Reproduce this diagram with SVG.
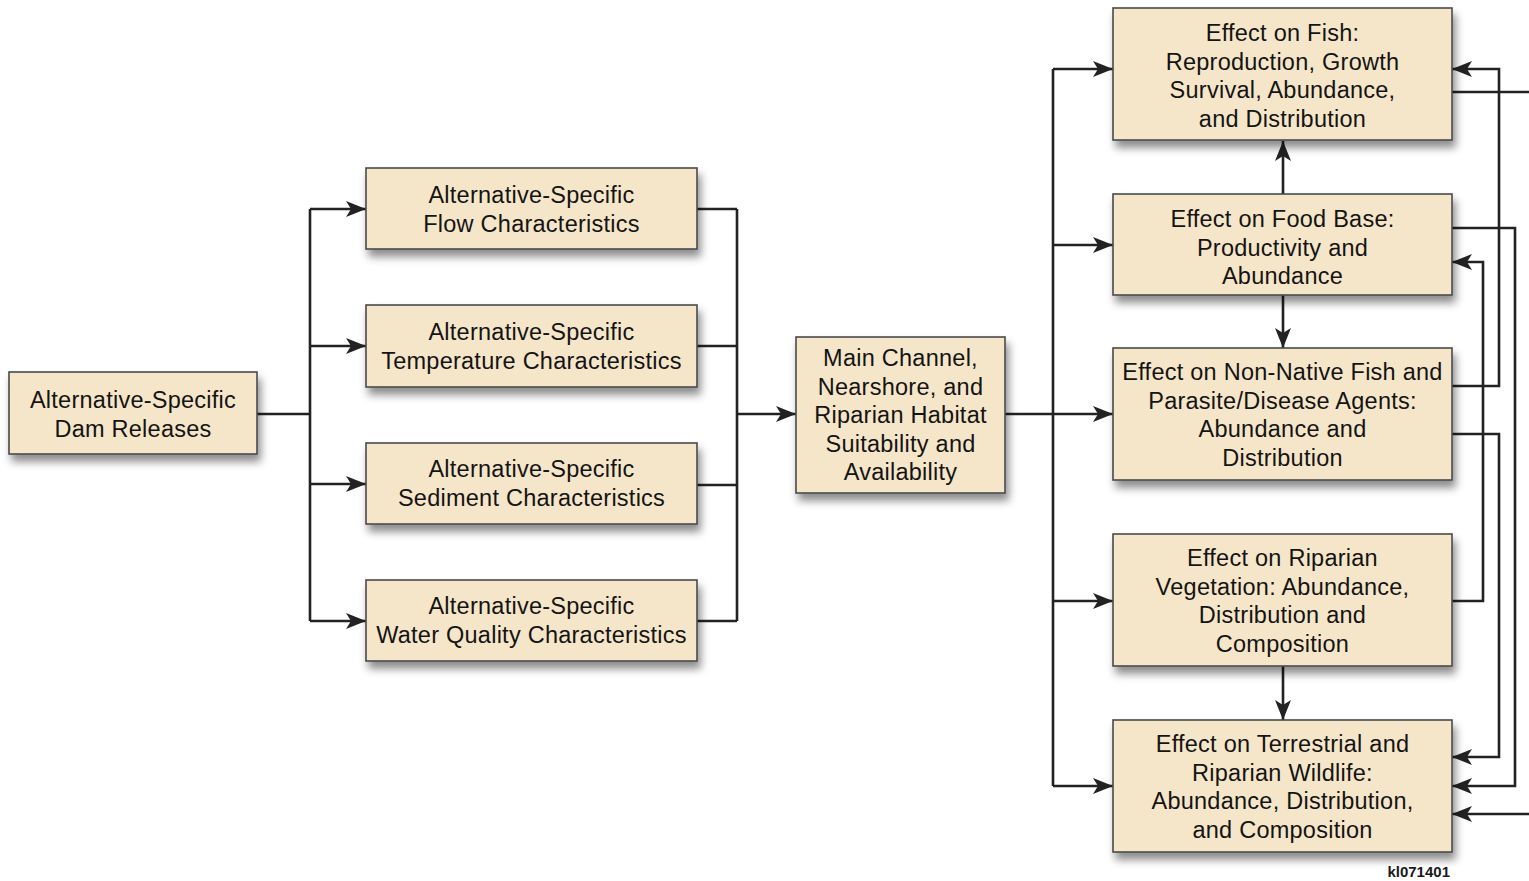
<svg xmlns="http://www.w3.org/2000/svg" width="1529" height="881" viewBox="0 0 1529 881">
<style>
.box{fill:#F6E6C9;stroke:#4a4a4a;stroke-width:1.6;filter:url(#sh)}
.t{font-family:"Liberation Sans",Arial,Helvetica,sans-serif;font-size:23.5px;letter-spacing:0.25px;fill:#141414;text-anchor:middle}
.c{fill:none;stroke:#222;stroke-width:2.6}
.a{marker-end:url(#ar)}
.id{font-family:"Liberation Sans",Arial,sans-serif;font-size:15px;font-weight:bold;fill:#1a1a1a;text-anchor:end}
</style>
<defs>
<filter id="sh" x="-10%" y="-20%" width="125%" height="150%">
<feDropShadow dx="3" dy="7" stdDeviation="4.5" flood-color="#000" flood-opacity="0.45"/>
</filter>
<marker id="ar" markerUnits="userSpaceOnUse" markerWidth="20" markerHeight="16" refX="20" refY="8" orient="auto" viewBox="0 0 20 16">
<path d="M0,0 L20,8 L0,16 L5,8 z" fill="#222"/>
</marker>
</defs>
<rect width="1529" height="881" fill="#fff"/>

<g id="connectors">
<path class="c" d="M257,414 H310"/>
<path class="c" d="M310,209 V621"/>
<path class="c a" d="M310,209 H366"/>
<path class="c a" d="M310,346 H366"/>
<path class="c a" d="M310,484 H366"/>
<path class="c a" d="M310,621 H366"/>
<path class="c" d="M697,209 H737 M697,346 H737 M697,485 H737 M697,621 H737"/>
<path class="c" d="M737,209 V621"/>
<path class="c a" d="M737,414 H796"/>
<path class="c" d="M1005,414 H1053"/>
<path class="c" d="M1053,69 V786"/>
<path class="c a" d="M1053,69 H1113"/>
<path class="c a" d="M1053,245 H1113"/>
<path class="c a" d="M1053,414 H1113"/>
<path class="c a" d="M1053,601 H1113"/>
<path class="c a" d="M1053,786 H1113"/>
<path class="c a" d="M1283,194 V141"/>
<path class="c a" d="M1283,295 V348"/>
<path class="c a" d="M1283,666 V720"/>
<path class="c" d="M1452,92 H1529"/>
<path class="c a" d="M1452,386 H1499 V69 H1452"/>
<path class="c a" d="M1452,228 H1515 V786 H1452"/>
<path class="c a" d="M1452,601 H1483 V262 H1452"/>
<path class="c a" d="M1452,434 H1499 V757 H1452"/>
<path class="c a" d="M1529,814 H1452"/>
</g>

<g id="dam">
<rect class="box" x="9" y="372" width="248" height="82"/>
<text class="t" x="133" y="408">Alternative-Specific</text>
<text class="t" x="133" y="437">Dam Releases</text>
</g>
<g id="flow">
<rect class="box" x="366" y="168" width="331" height="81"/>
<text class="t" x="531.5" y="203">Alternative-Specific</text>
<text class="t" x="531.5" y="232">Flow Characteristics</text>
</g>
<g id="temperature">
<rect class="box" x="366" y="305" width="331" height="82"/>
<text class="t" x="531.5" y="340">Alternative-Specific</text>
<text class="t" x="531.5" y="369">Temperature Characteristics</text>
</g>
<g id="sediment">
<rect class="box" x="366" y="443" width="331" height="81"/>
<text class="t" x="531.5" y="477">Alternative-Specific</text>
<text class="t" x="531.5" y="506">Sediment Characteristics</text>
</g>
<g id="waterquality">
<rect class="box" x="366" y="580" width="331" height="81"/>
<text class="t" x="531.5" y="614">Alternative-Specific</text>
<text class="t" x="531.5" y="643">Water Quality Characteristics</text>
</g>
<g id="habitat">
<rect class="box" x="796" y="337" width="209" height="156"/>
<text class="t" x="900.5" y="366">Main Channel,</text>
<text class="t" x="900.5" y="394.5">Nearshore, and</text>
<text class="t" x="900.5" y="423">Riparian Habitat</text>
<text class="t" x="900.5" y="451.5">Suitability and</text>
<text class="t" x="900.5" y="480">Availability</text>
</g>
<g id="fish">
<rect class="box" x="1113" y="8" width="339" height="132"/>
<text class="t" x="1282.5" y="41">Effect on Fish:</text>
<text class="t" x="1282.5" y="69.5">Reproduction, Growth</text>
<text class="t" x="1282.5" y="98">Survival, Abundance,</text>
<text class="t" x="1282.5" y="126.5">and Distribution</text>
</g>
<g id="foodbase">
<rect class="box" x="1113" y="194" width="339" height="101"/>
<text class="t" x="1282.5" y="227">Effect on Food Base:</text>
<text class="t" x="1282.5" y="255.5">Productivity and</text>
<text class="t" x="1282.5" y="284">Abundance</text>
</g>
<g id="nonnative">
<rect class="box" x="1113" y="348" width="339" height="132"/>
<text class="t" x="1282.5" y="380">Effect on Non-Native Fish and</text>
<text class="t" x="1282.5" y="408.5">Parasite/Disease Agents:</text>
<text class="t" x="1282.5" y="437">Abundance and</text>
<text class="t" x="1282.5" y="465.5">Distribution</text>
</g>
<g id="vegetation">
<rect class="box" x="1113" y="534" width="339" height="132"/>
<text class="t" x="1282.5" y="566">Effect on Riparian</text>
<text class="t" x="1282.5" y="594.5">Vegetation: Abundance,</text>
<text class="t" x="1282.5" y="623">Distribution and</text>
<text class="t" x="1282.5" y="651.5">Composition</text>
</g>
<g id="wildlife">
<rect class="box" x="1113" y="720" width="339" height="132"/>
<text class="t" x="1282.5" y="752">Effect on Terrestrial and</text>
<text class="t" x="1282.5" y="780.5">Riparian Wildlife:</text>
<text class="t" x="1282.5" y="809">Abundance, Distribution,</text>
<text class="t" x="1282.5" y="837.5">and Composition</text>
</g>
<text class="id" x="1450" y="877">kl071401</text>
</svg>
